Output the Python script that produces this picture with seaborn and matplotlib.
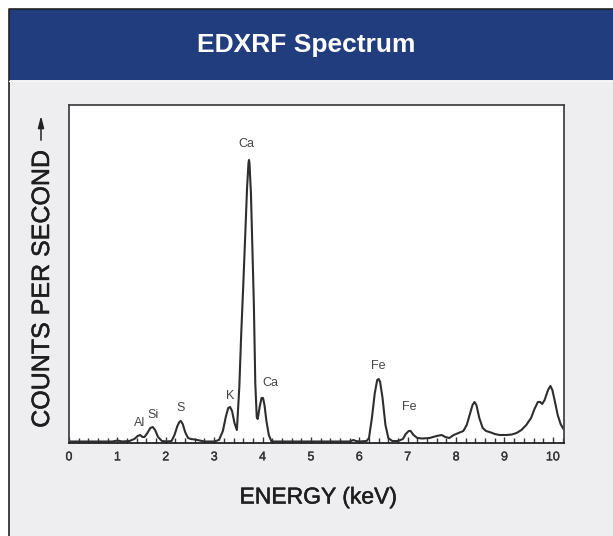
import numpy as np
import pandas as pd
import matplotlib
matplotlib.use("Agg")
import matplotlib.pyplot as plt
import matplotlib.patheffects as pe
from matplotlib.patches import Rectangle
from matplotlib.lines import Line2D
from matplotlib.ticker import MultipleLocator
import seaborn as sns

# spectrum (energy in keV, counts in arbitrary units)
energy = [0.00, 0.50, 0.90, 1.00, 1.10, 1.25, 1.35, 1.42, 1.47, 1.52, 1.56, 1.62, 1.68,
          1.73, 1.78, 1.84, 1.92, 2.02, 2.12, 2.18, 2.24, 2.28, 2.31, 2.35, 2.40, 2.46,
          2.52, 2.60, 2.70, 2.80, 3.00, 3.10, 3.18, 3.24, 3.29, 3.33, 3.37, 3.42, 3.47,
          3.52, 3.56, 3.60, 3.64, 3.68, 3.71, 3.72, 3.73, 3.76, 3.79, 3.82, 3.85, 3.88,
          3.90, 3.94, 3.98, 4.01, 4.04, 4.08, 4.13, 4.18, 4.22, 5.00, 5.80, 5.88, 5.93,
          6.00, 6.15, 6.20, 6.26, 6.32, 6.37, 6.40, 6.43, 6.48, 6.54, 6.60, 6.68, 6.80,
          6.90, 6.96, 7.02, 7.06, 7.12, 7.20, 7.30, 7.45, 7.60, 7.70, 7.78, 7.86, 7.95,
          8.05, 8.15, 8.22, 8.28, 8.34, 8.38, 8.42, 8.48, 8.55, 8.62, 8.72, 8.80, 8.90,
          9.05, 9.15, 9.25, 9.35, 9.45, 9.55, 9.62, 9.69, 9.74, 9.78, 9.83, 9.90, 9.95,
          9.99, 10.04, 10.10, 10.16, 10.22, 10.26]
counts = [1.5, 1.5, 1.5, 2.5, 1.5, 2, 4, 7, 8, 6, 6, 10, 15,
          16, 13, 6, 2, 1.5, 2, 8, 17, 21, 22, 19, 11, 5,
          4, 3.5, 2.5, 1.5, 1.5, 3, 12, 26, 35, 36, 32, 20, 13,
          56, 110, 156, 205, 255, 280, 283, 280, 250, 195, 140, 60, 26,
          24, 36, 45, 45, 38, 22, 8, 2, 1.5, 1.5, 1.5, 3, 2,
          1.5, 2, 5, 25, 50, 63, 64, 61, 45, 18, 5, 2, 2,
          4, 9, 12, 12, 8, 5, 4.5, 5, 7, 8, 6, 5, 8,
          10, 12, 18, 28, 38, 41, 38, 25, 15, 12, 10.5, 9, 8,
          8, 8.5, 10, 13, 18, 25, 34, 41, 41, 39, 43, 53, 57,
          53, 42, 28, 19, 14, 13]

# element labels and where they sit
peak_names = ["Al", "Si", "S", "K", "Ca", "Ca", "Fe", "Fe"]
peak_x = [1.45, 1.74, 2.30, 3.32, 3.67, 4.17, 6.40, 7.04]
peak_y = [20, 28, 35, 47, 299, 60, 77, 36]

W, H = 613, 536
fig = plt.figure(figsize=(W / 100, H / 100), dpi=100)
fig.patch.set_facecolor("white")
sns.set_style("white")
plt.rcParams["font.family"] = ["Liberation Sans", "DejaVu Sans"]

def fx(px):
    return px / W

def fy(py):
    return 1 - py / H

# slightly heavier strokes, the original type is a medium weight
heavy = [pe.withStroke(linewidth=0.35, foreground="#1e1e1e")]
semi = [pe.withStroke(linewidth=0.25, foreground="#333333")]

# page background, banner and frame (kept behind the axes)
fig.patches.append(Rectangle((fx(9), 0), 1, fy(80), transform=fig.transFigure,
                             facecolor="#eeeef0", edgecolor="none", zorder=-10))
fig.patches.append(Rectangle((fx(9), fy(80)), 1, fy(9) - fy(80), transform=fig.transFigure,
                             facecolor="#223d7e", edgecolor="none", zorder=-10))
fig.lines.append(Line2D([fx(8.5), fx(8.5), 1], [0, fy(8.5), fy(8.5)], transform=fig.transFigure,
                        color="#222222", lw=1.2, zorder=-9))
fig.lines.append(Line2D([fx(9), 1], [fy(80.5), fy(80.5)], transform=fig.transFigure,
                        color="#f8f8fa", lw=1.0, zorder=-9))
fig.text(fx(306), fy(45), "EDXRF Spectrum", color="white", fontsize=19,
         fontweight="bold", ha="center", va="center")

ax = fig.add_axes([fx(69), fy(443), fx(563.5) - fx(69), fy(105) - fy(443)])
ax.set_facecolor("white")

df = pd.DataFrame({"energy": energy, "counts": counts})
sns.lineplot(data=df, x="energy", y="counts", ax=ax, sort=False, estimator=None,
             color="#2e2e2e", lw=1.5)

for name, x, y in zip(peak_names, peak_x, peak_y):
    ax.text(x, y, name, fontsize=9, color="#444444", ha="center", va="center")

ax.set_xlim(0, 10.22)
ax.set_ylim(0, 338)
ax.xaxis.set_major_locator(MultipleLocator(1))
ax.xaxis.set_minor_locator(MultipleLocator(0.2))
ax.set_yticks([])
ax.tick_params(axis="x", which="major", direction="in", length=4.5, width=1,
               color="#333333", labelsize=9, labelcolor="#333333", pad=6)
ax.tick_params(axis="x", which="minor", direction="in", length=3.5, width=1,
               color="#333333")
ax.tick_params(axis="x", which="both", bottom=True)
for lbl in ax.get_xticklabels():
    lbl.set_path_effects(semi)
ax.set_xlabel("")
ax.set_ylabel("")
for s in ax.spines.values():
    s.set_color("#444444")
    s.set_linewidth(1.3)
ax.spines["bottom"].set_color("#222222")

fig.text(fx(318), fy(497), "ENERGY (keV)", fontsize=16.5, color="#1e1e1e",
         ha="center", va="center", path_effects=heavy)
fig.text(fx(42), fy(289), "COUNTS PER SECOND", fontsize=18, color="#1e1e1e",
         ha="center", va="center", rotation=90, path_effects=heavy)
ax.annotate("", xy=(fx(41), fy(113)), xytext=(fx(41), fy(143)),
            xycoords="figure fraction", textcoords="figure fraction",
            arrowprops=dict(arrowstyle="-|>,head_length=0.7,head_width=0.18",
                            color="#222222", lw=1.1))

fig.savefig("out.png", dpi=100, facecolor=fig.get_facecolor())
